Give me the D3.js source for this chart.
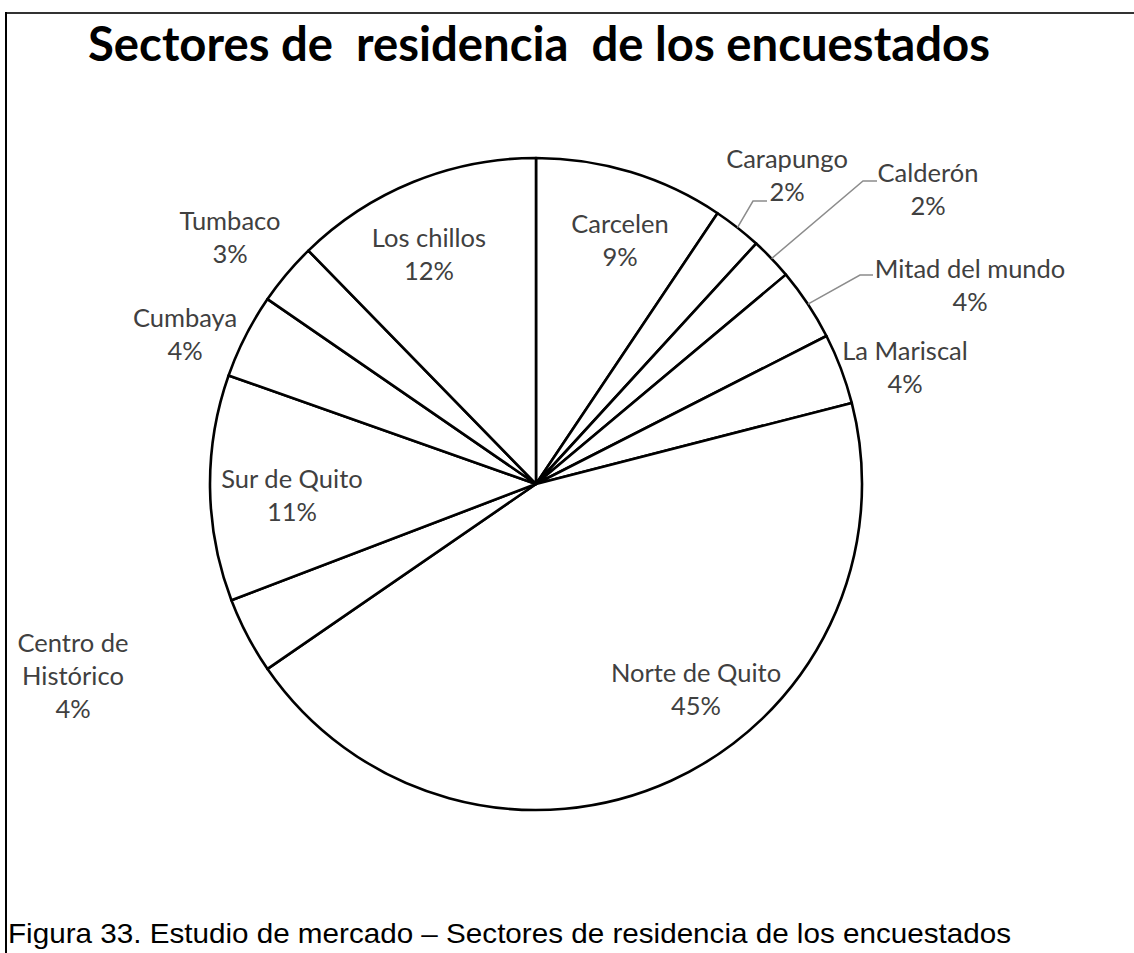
<!DOCTYPE html>
<html>
<head>
<meta charset="utf-8">
<script src="https://cdn.jsdelivr.net/npm/d3@7"></script>
<style>
  body { margin: 0; background: #fff; }
  text { white-space: pre; }
</style>
</head>
<body>
<svg id="chart" width="1134" height="953"></svg>
<script>
// slices, clockwise from 12 o'clock
const sectors = ['Carcelen', 'Carapungo', 'Calderón', 'Mitad del mundo', 'La Mariscal', 'Norte de Quito',
  'Centro de Histórico', 'Sur de Quito', 'Cumbaya', 'Tumbaco', 'Los chillos'];
const shares = [9.4, 2.4, 2.1, 3.6, 3.5, 44.4, 3.8, 11.2, 4.2, 3.1, 12.3];
const pctLabels = ['9%', '2%', '2%', '4%', '4%', '45%', '4%', '11%', '4%', '3%', '12%'];
const labelLines = [['Carcelen'], ['Carapungo'], ['Calderón'], ['Mitad del mundo'], ['La Mariscal'],
  ['Norte de Quito'], ['Centro de', 'Histórico'], ['Sur de Quito'], ['Cumbaya'], ['Tumbaco'], ['Los chillos']];

// label layout: centre x, first baseline y
const labelPos = [[620, 233], [787, 168], [928, 182], [970, 278], [905, 360], [696, 682],
  [73, 652], [292, 488], [185, 327], [230, 230], [429, 247]];
// leader lines for the small slices: elbow x, elbow y, end x
const leaders = { 1: [753, 201, 767], 2: [863, 181, 877], 3: [860, 275, 873] };

const svg = d3.select('#chart');
const width = +svg.attr('width');

// frame
svg.append('line').attr('x1', 6).attr('x2', width).attr('y1', 13).attr('y2', 13)
  .attr('stroke', '#333').attr('stroke-width', 2);
svg.append('line').attr('x1', 6).attr('x2', 6).attr('y1', 12).attr('y2', 953)
  .attr('stroke', '#000').attr('stroke-width', 2);

svg.append('text')
  .attr('x', 88).attr('y', 61)
  .attr('textLength', 902).attr('lengthAdjust', 'spacingAndGlyphs')
  .style('font-family', 'Lato, sans-serif').style('font-weight', 700).style('font-size', '47px')
  .attr('fill', '#000')
  .text('Sectores de  residencia  de los encuestados');

const cx = 536, cy = 484, radius = 326;
const pie = d3.pie().sort(null).value(d => d);
const arcs = pie(shares);
const arc = d3.arc().innerRadius(0).outerRadius(radius);

const g = svg.append('g').attr('transform', `translate(${cx},${cy})`);
g.selectAll('path')
  .data(arcs).enter()
  .append('path')
  .attr('d', arc)
  .attr('fill', '#fff')
  .attr('stroke', '#000')
  .attr('stroke-width', 2.6)
  .attr('stroke-linejoin', 'round');

// leader lines
arcs.forEach((a, i) => {
  if (!leaders[i]) return;
  const mid = (a.startAngle + a.endAngle) / 2;
  const sx = cx + radius * Math.sin(mid);
  const sy = cy - radius * Math.cos(mid);
  const [ex, ey, tx] = leaders[i];
  svg.append('path')
    .attr('d', d3.line()([[sx, sy], [ex, ey], [tx, ey]]))
    .attr('fill', 'none')
    .attr('stroke', '#8c8c8c')
    .attr('stroke-width', 1.5);
});

const lineGap = 33;
const labels = svg.append('g')
  .style('font-family', 'Lato, sans-serif')
  .style('font-size', '25.5px')
  .attr('fill', '#404040')
  .attr('text-anchor', 'middle');

sectors.forEach((name, i) => {
  const [x, y] = labelPos[i];
  const lines = labelLines[i].concat([pctLabels[i]]);
  const t = labels.append('text').attr('x', x).attr('y', y);
  lines.forEach((ln, k) => {
    t.append('tspan').attr('x', x).attr('dy', k === 0 ? 0 : lineGap).text(ln);
  });
});

svg.append('text')
  .attr('x', 8).attr('y', 943)
  .attr('textLength', 1003).attr('lengthAdjust', 'spacingAndGlyphs')
  .style('font-family', '"Liberation Sans", Arial, sans-serif').style('font-size', '28px')
  .attr('fill', '#000')
  .text('Figura 33. Estudio de mercado – Sectores de residencia de los encuestados');
</script>
</body>
</html>
